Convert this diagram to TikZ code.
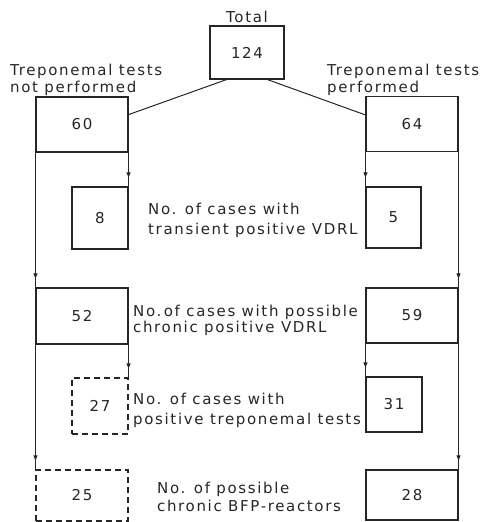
\documentclass[tikz,border=0pt]{standalone}
\usepackage{fontspec}
\setmainfont[LetterSpace=11]{DejaVu Sans}
\usepackage{tikz}
\usetikzlibrary{arrows.meta}
\usetikzlibrary{decorations.markings}
\definecolor{inkgray}{RGB}{38, 38, 38}
\tikzset{
  cellbox/.style={draw=inkgray, line width=1.1pt, minimum width=92pt, minimum height=55pt,
                  inner sep=0pt, text=inkgray, font=\fontsize{15}{17}\selectfont},
  smallbox/.style={cellbox, minimum width=56pt},
  guessbox/.style={dash pattern=on 6pt off 4pt},
  caption/.style={anchor=west, align=left, inner sep=0pt, text=inkgray},
  flow/.style={draw=inkgray, line width=1pt, postaction={decorate},
               decoration={markings, mark=at position -9pt with {\arrow{Triangle[length=5pt,width=4pt]}}}},
}
\begin{document}
\begin{tikzpicture}[x=1pt, y=-1pt]
            \useasboundingbox (0,0) rectangle (484,522);
            \node[cellbox, minimum width=74pt, minimum height=53pt]            (total) at (247.0, 52.5) {124};
            \node[cellbox]                                                    (n60)   at ( 82.0,124.5) {60};
            \node[cellbox]                                                    (n64)   at (412.0,124.0) {64};
            \node[smallbox, minimum height=62pt]                              (n8)    at (100.0,218.0) {8};
            \node[smallbox, minimum height=61pt, minimum width=55pt]          (n5)    at (393.5,217.5) {5};
            \node[cellbox, minimum height=56pt]                               (n52)   at ( 82.0,316.0) {52};
            \node[cellbox]                                                    (n59)   at (412.0,315.5) {59};
            \node[smallbox, guessbox, minimum height=56pt]                    (n27)   at (100.0,406.0) {27};
            \node[smallbox]                                                   (n31)   at (394.0,404.5) {31};
            \node[cellbox, guessbox, minimum height=51pt]                     (n25)   at ( 82.0,495.5) {25};
            \node[cellbox, minimum height=50pt]                               (n28)   at (412.0,495.0) {28};

            \node[caption, anchor=south, font=\fontsize{15}{17}\selectfont]  (total-lbl) at (total.north) [yshift=3pt] {Total};
            \node[caption, font=\fontsize{15}{17}\selectfont]                 (left-lbl)  at ( 10.0, 80.0) {Treponemal tests\\not performed};
            \node[caption, font=\fontsize{15}{17}\selectfont]                 (right-lbl) at (327.0, 80.0) {Treponemal tests\\performed};
            \node[caption, font=\fontsize{15}{20}\selectfont]                 (trans-lbl) at (148.0,220.0) {No. of cases with\\ transient positive VDRL};
            \node[caption, font=\fontsize{15}{16}\selectfont]                 (chron-lbl) at (133.0,320.0) {No.\,of cases with possible\\chronic positive VDRL};
            \node[caption, font=\fontsize{15}{20}\selectfont]                 (trep-lbl)  at (133.0,410.0) {No. of cases with\\positive treponemal tests};
            \node[caption, font=\fontsize{15}{18}\selectfont]                 (bfp-lbl)   at (157.0,497.0) {No. of possible\\chronic BFP-reactors};

            \draw[draw=inkgray, line width=1pt] (total.233) -- (n60.12);
            \draw[draw=inkgray, line width=1pt] (total.307) -- (n64.169);
            \draw[flow] (n60.south west) -- (n52.north west);
            \draw[flow] (n60.south east) -- (n8.north east);
            \draw[flow] (n64.south west) -- (n5.north west);
            \draw[flow] (n64.south east) -- (n59.north east);
            \draw[flow] (n52.south west) -- (n25.north west);
            \draw[flow] (n52.south east) -- (n27.north east);
            \draw[flow] (n59.south west) -- (n31.north west);
            \draw[flow] (n59.south east) -- (n28.north east);
\end{tikzpicture}
\end{document}
